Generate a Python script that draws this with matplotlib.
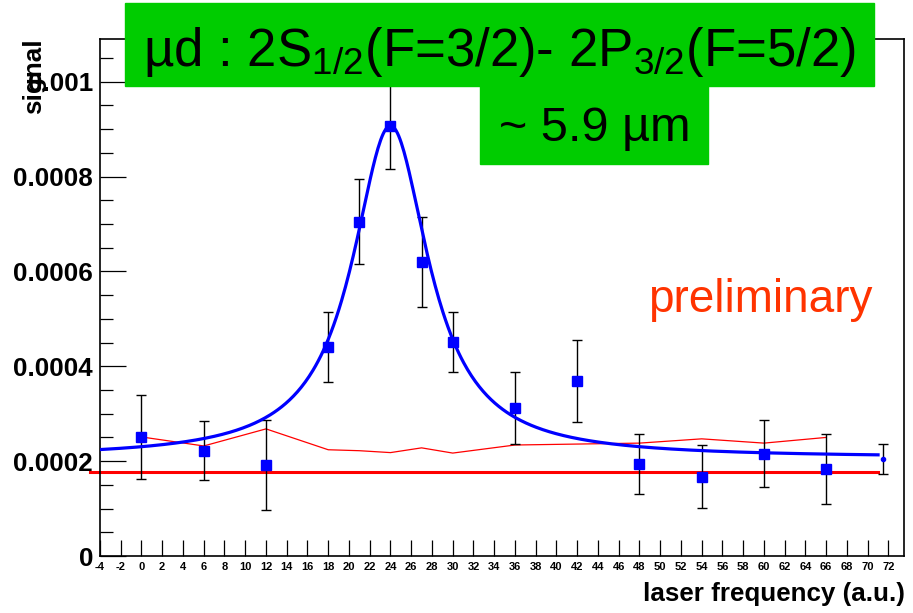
import numpy as np
import matplotlib
matplotlib.use("Agg")
import matplotlib.pyplot as plt
from matplotlib.patches import Rectangle
from matplotlib.ticker import MultipleLocator

plt.rcParams['font.family'] = ['Liberation Sans', 'DejaVu Sans']
plt.rcParams['axes.unicode_minus'] = False
plt.rcParams['mathtext.fontset'] = 'custom'
plt.rcParams['mathtext.rm'] = 'Liberation Sans'
plt.rcParams['mathtext.it'] = 'Liberation Sans:italic'
plt.rcParams['mathtext.bf'] = 'Liberation Sans:bold'

# measured points (laser frequency, signal, error)
freq = [0, 6, 12, 18, 21, 24, 27, 30, 36, 42, 48, 54, 60, 66]
signal = [0.000251, 0.000222, 0.000192, 0.000441, 0.000705, 0.000907,
          0.000620, 0.000451, 0.000312, 0.000369, 0.000194, 0.000167,
          0.000216, 0.000184]
sig_err = [0.000088, 0.000062, 0.000095, 0.000074, 0.000090, 0.000092,
           0.000094, 0.000064, 0.000075, 0.000087, 0.000064, 0.000066,
           0.000070, 0.000074]

# extra (off-resonance) point at the right edge
off_freq = [71.5]
off_signal = [0.000205]
off_err = [0.000032]

# background estimate (thin red line)
bkg_freq = [0, 6, 12, 18, 21, 24, 27, 30, 36, 42, 48, 54, 60, 66]
bkg_signal = [0.000251, 0.000232, 0.000268, 0.000224, 0.000222, 0.000218,
              0.000228, 0.000217, 0.000234, 0.000236, 0.000238, 0.000247,
              0.000238, 0.000250]

# flat background level (thick red line)
bkg_level = 0.000177
bkg_span = [-5, 71]

# lorentzian fit parameters: amplitude, centre, half width, offset
fit_amp = 0.000700
fit_x0 = 24.0
fit_gamma = 4.47
fit_const = 0.000207
fit_range = [-4, 71]

ytick_vals = [0, 0.0002, 0.0004, 0.0006, 0.0008, 0.001]
ytick_labels = ['0', '0.0002', '0.0004', '0.0006', '0.0008', '0.001']

W, H = 913, 613
fig = plt.figure(figsize=(W / 100, H / 100), dpi=100)

def fx(px):
    return px / W

def fy(py):
    return 1 - py / H

ax = fig.add_axes([fx(100), fy(556), (904 - 100) / W, (556 - 39) / H])
ax.set_xlim(-4, 73.5)
ax.set_ylim(0, 0.00109)

# background lines
ax.plot(bkg_span, [bkg_level, bkg_level], color='#ff0000', lw=2.2, clip_on=False, zorder=2)
ax.plot(bkg_freq, bkg_signal, color='#ff0000', lw=0.9, zorder=2)

# data with error bars
ax.errorbar(freq, signal, yerr=sig_err, fmt='s', color='#0000ff', ms=7,
            ecolor='black', elinewidth=1, capsize=3.5, capthick=1, zorder=3)
ax.errorbar(off_freq, off_signal, yerr=off_err, fmt='o', color='#0000ff', ms=3,
            ecolor='black', elinewidth=1, capsize=3.5, capthick=1, zorder=3)

# fit curve
xf = np.linspace(fit_range[0], fit_range[1], 600)
yf = fit_const + fit_amp / (1 + ((xf - fit_x0) / fit_gamma) ** 2)
ax.plot(xf, yf, color='#0000ff', lw=2.3, zorder=4)

# axes styling
for s in ax.spines.values():
    s.set_linewidth(1.2)
ax.xaxis.set_major_locator(MultipleLocator(2))
ax.set_yticks(ytick_vals)
ax.set_yticklabels(ytick_labels)
ax.yaxis.set_minor_locator(MultipleLocator(0.00005))
ax.tick_params(axis='y', which='major', direction='in', length=19, width=0.9,
               labelsize=18.7, pad=5)
ax.tick_params(axis='y', which='minor', direction='in', length=9, width=0.9)
ax.tick_params(axis='x', which='major', direction='in', length=11.5, width=0.9,
               labelsize=8, pad=4)
for lab in ax.get_xticklabels() + ax.get_yticklabels():
    lab.set_fontweight('bold')

fig.text(fx(34), fy(38), 'signal', rotation=90, ha='center', va='top',
         fontsize=18.7, fontweight='bold')
fig.text(fx(905), fy(601), 'laser frequency (a.u.)', ha='right', va='baseline',
         fontsize=18.7, fontweight='bold')

fig.text(fx(760), fy(312), 'preliminary', ha='center', va='baseline',
         fontsize=33, color='#ff3300')

# title boxes
green = '#00cc00'
fig.patches.append(Rectangle((fx(125), fy(86)), (874 - 125) / W, (86 - 3) / H,
                             transform=fig.transFigure, color=green, zorder=5))
fig.patches.append(Rectangle((fx(480), fy(164)), (708 - 480) / W, (164 - 86) / H,
                             transform=fig.transFigure, color=green, zorder=5))
fig.text(fx(500), fy(66), 'µd : 2S$_{\\mathrm{1/2}}$(F=3/2)- 2P$_{\\mathrm{3/2}}$(F=5/2)',
         ha='center', va='baseline', fontsize=38, zorder=6)
fig.text(fx(595), fy(141), '~ 5.9 µm', ha='center', va='baseline', fontsize=35, zorder=6)

fig.savefig('out.png', dpi=100)
